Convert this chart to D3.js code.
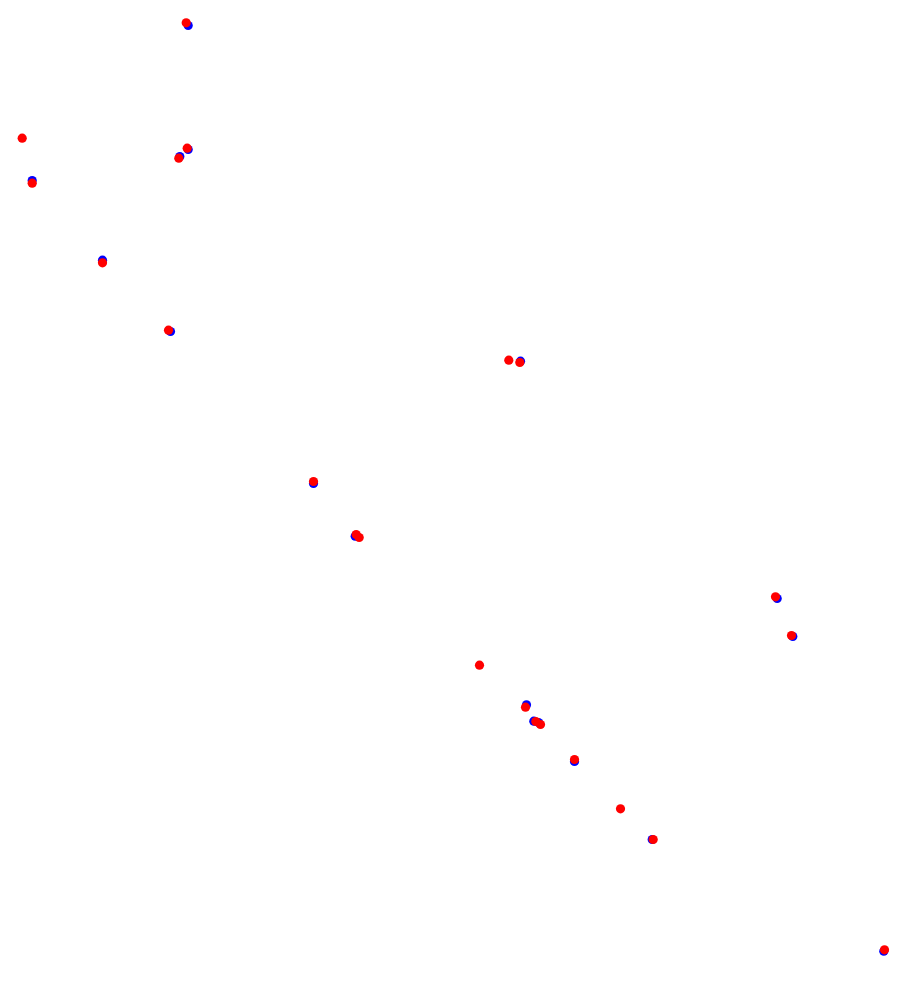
<!DOCTYPE html>
<html>
<head>
<meta charset="utf-8">
<script src="https://cdn.jsdelivr.net/npm/d3@7"></script>
<style>html,body{margin:0;padding:0;background:#fff;}svg{display:block;}</style>
</head>
<body>
<script>
// Blue series (x, y in chart units)
const blueX = [187.7, 31.7, 187.7, 179.3, 102, 170, 520, 313, 354.7, 776.7, 792.3, 526, 533.3, 538, 574, 651.7, 883.3];
const blueY = [25, 180, 149, 156, 259.7, 331, 360.7, 483, 535.7, 598, 636, 704.3, 720.7, 722, 761, 839, 950.7];
// Red series
const redX = [185.7, 21.7, 31.7, 186.7, 178.3, 102, 168, 508.3, 519.3, 313, 355.7, 358.7, 775, 791, 479, 525, 535.3, 540, 574, 620, 652.7, 884];
const redY = [22.3, 137.7, 182.7, 147.7, 157.7, 262.3, 329.7, 359.7, 362, 481, 534, 537, 596.3, 635, 664.7, 706.7, 721, 724, 759, 808.3, 839, 949.3];

const W = 917, H = 981;
const svg = d3.select("body").append("svg").attr("width", W).attr("height", H);
const x = d3.scaleLinear().domain([0, 917]).range([0.5, W + 0.5]);
const y = d3.scaleLinear().domain([0, 981]).range([0.5, H + 0.5]);

const blue = blueX.map((v, i) => ({x: v, y: blueY[i]}));
const red = redX.map((v, i) => ({x: v, y: redY[i]}));

svg.append("g").selectAll("circle").data(blue).join("circle")
  .attr("cx", d => x(d.x)).attr("cy", d => y(d.y)).attr("r", 4.6).attr("fill", "#0000ff");
svg.append("g").selectAll("circle").data(red).join("circle")
  .attr("cx", d => x(d.x)).attr("cy", d => y(d.y)).attr("r", 4.6).attr("fill", "#ff0000");
</script>
</body>
</html>
